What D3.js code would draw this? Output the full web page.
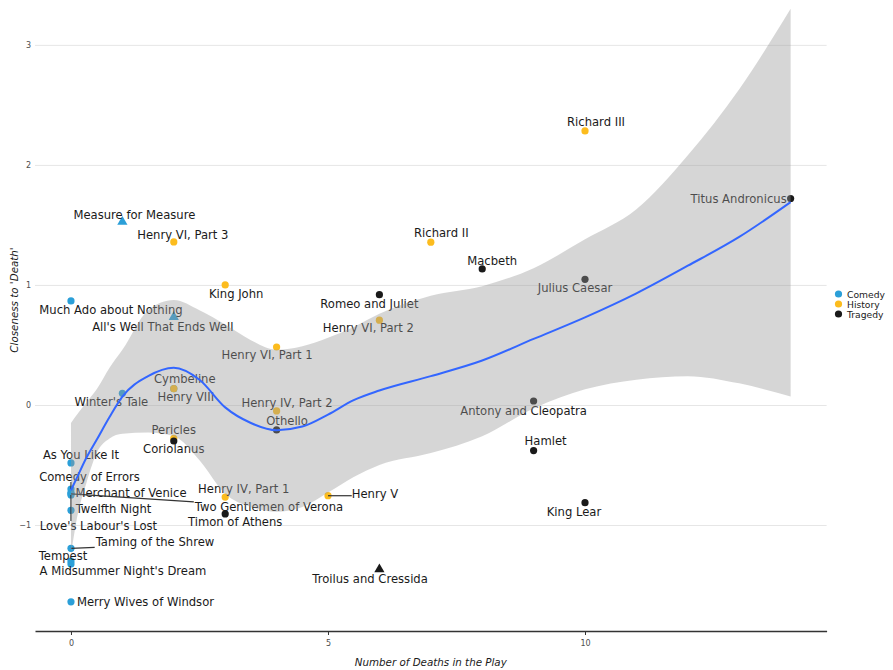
<!DOCTYPE html>
<html>
<head>
<meta charset="utf-8">
<script src="https://cdn.jsdelivr.net/npm/d3@7"></script>
<style>
  body { margin: 0; background: #ffffff; }
  svg { display: block; font-family: "DejaVu Sans", sans-serif; }
</style>
</head>
<body>
<div id="chart"></div>
<script>
// plays
const plays = [
  "Measure for Measure", "Henry VI, Part 3", "King John", "Much Ado about Nothing",
  "All's Well That Ends Well", "Henry VI, Part 1", "Cymbeline", "Henry VIII",
  "Winter's Tale", "Henry IV, Part 2", "Othello", "Pericles", "Coriolanus",
  "As You Like It", "Comedy of Errors", "Merchant of Venice", "Two Gentlemen of Verona",
  "Twelfth Night", "Love's Labour's Lost", "Taming of the Shrew", "Tempest",
  "A Midsummer Night's Dream", "Merry Wives of Windsor", "Henry IV, Part 1",
  "Timon of Athens", "Henry V", "Troilus and Cressida", "Hamlet", "King Lear",
  "Antony and Cleopatra", "Richard III", "Richard II", "Macbeth", "Julius Caesar",
  "Romeo and Juliet", "Henry VI, Part 2", "Titus Andronicus"
];
const deaths = [1, 2, 3, 0, 2, 4, 2, 2, 1, 4, 4, 2, 2, 0, 0, 0, 0, 0, 0, 0, 0, 0, 0, 3, 3, 5, 6, 9, 10, 9, 10, 7, 8, 10, 6, 6, 14];
const closeness = [1.525, 1.358, 1.0, 0.867, 0.733, 0.483, 0.136, 0.136, 0.097, -0.05, -0.208, -0.278, -0.30,
  -0.483, -0.70, -0.73, -0.74, -0.878, -0.75, -1.194, -1.30, -1.325, -1.64, -0.767, -0.908, -0.756,
  -1.37, -0.38, -0.814, 0.033, 2.283, 1.356, 1.133, 1.047, 0.919, 0.706, 1.72];
const genre = ["Comedy", "History", "History", "Comedy", "Comedy", "History", "Comedy", "History",
  "Comedy", "History", "Tragedy", "History", "Tragedy", "Comedy", "Comedy", "Comedy", "Comedy",
  "Comedy", "Comedy", "Comedy", "Comedy", "Comedy", "Comedy", "History", "Tragedy", "History",
  "Tragedy", "Tragedy", "Tragedy", "Tragedy", "History", "History", "Tragedy", "Tragedy",
  "Tragedy", "History", "Tragedy"];
const problemPlay = ["Measure for Measure", "All's Well That Ends Well", "Troilus and Cressida"];

// label placement (pixel offsets of the label centre from its point)
const labelOffset = [
  [12, -7], [9, -7], [11, 9], [40, 9], [-11, 10], [-9.5, 8], [11, -10], [12, 8],
  [-11, 8.5], [10.5, -8], [10.5, -9], [0, -8], [0, 8], [10, -8], [18.5, -12], [60, 0],
  [198, 13], [42.5, -1], [27.5, 31], [84, -6], [-8, -5], [52, 7], [74.5, 0], [18.5, -8],
  [10, 8], [47, -2], [-9.3, 9.3], [12, -10], [-11, 9], [-10, 10], [11, -9], [10.5, -9],
  [10, -8], [-10, 9], [-10, 9], [-11, 8], [-52, 0]
];
const withLeader = ["Comedy of Errors", "Two Gentlemen of Verona", "Love's Labour's Lost",
  "Taming of the Shrew", "Henry V"];

// smoother and its band
const smoothX = [0, 0.1, 0.3, 0.5, 0.75, 1, 1.5, 2, 2.5, 3, 3.5, 4, 4.5, 5, 5.5, 6, 7, 8, 9, 10, 11, 12, 13, 14];
const smoothFit = [-0.71, -0.62, -0.44, -0.29, -0.10, 0.07, 0.24, 0.31, 0.21, -0.02, -0.15, -0.21, -0.18,
  -0.08, 0.04, 0.12, 0.24, 0.37, 0.55, 0.73, 0.93, 1.16, 1.40, 1.69];
const smoothLo = [-1.25, -0.98, -0.65, -0.40, -0.28, -0.24, -0.23, -0.26, -0.46, -0.74, -0.85, -0.89, -0.85,
  -0.73, -0.60, -0.50, -0.40, -0.26, -0.03, 0.13, 0.21, 0.24, 0.18, 0.07];
const smoothHi = [-0.15, -0.09, 0.02, 0.13, 0.31, 0.46, 0.79, 0.875, 0.79, 0.67, 0.54, 0.46, 0.49,
  0.56, 0.65, 0.76, 0.91, 0.99, 1.14, 1.38, 1.63, 2.08, 2.63, 3.30];

const genres = ["Comedy", "History", "Tragedy"];
const xTicks = [0, 5, 10];
const yTicks = [-1, 0, 1, 2, 3];

const width = 893, height = 670;
const left = 35, right = 826.6, bottom = 631;

const svg = d3.select('#chart').append('svg')
  .attr('width', width)
  .attr('height', height);

const x = d3.scaleLinear().domain([-0.7, 14.7]).range([left, right]);
const y = d3.scaleLinear().domain([-1.883, 3.557]).range([bottom, -22]);
const color = d3.scaleOrdinal(genres, ['#2b9fd8', '#fcbc1e', '#1a1a1a']);

// y grid + labels
const yAxis = svg.append('g')
  .attr('transform', 'translate(' + left + ',0)')
  .call(d3.axisLeft(y).tickValues(yTicks).tickSize(-(right - left)).tickPadding(4).tickFormat(d3.format('d')));
yAxis.select('.domain').remove();
yAxis.selectAll('line').attr('stroke', '#e6e6e6').attr('stroke-width', 1);
yAxis.selectAll('text').attr('font-size', 8).attr('fill', '#4d4d4d').attr('font-family', 'DejaVu Sans');

// x axis
const xAxis = svg.append('g')
  .attr('transform', 'translate(0,' + bottom + ')')
  .call(d3.axisBottom(x).tickValues(xTicks).tickSize(4).tickSizeOuter(0).tickPadding(5));
xAxis.select('.domain').attr('stroke', '#333333').attr('stroke-width', 1.5);
xAxis.selectAll('line').attr('stroke', '#333333');
xAxis.selectAll('text').attr('font-size', 8).attr('fill', '#4d4d4d').attr('font-family', 'DejaVu Sans');

// axis titles
svg.append('text')
  .attr('x', (left + right) / 2).attr('y', 662)
  .attr('text-anchor', 'middle').attr('dominant-baseline', 'central')
  .attr('font-size', 10.3).attr('font-style', 'italic').attr('fill', '#1a1a1a')
  .text('Number of Deaths in the Play');
svg.append('text')
  .attr('transform', 'translate(14,300) rotate(-90)')
  .attr('text-anchor', 'middle').attr('dominant-baseline', 'central')
  .attr('font-size', 10.3).attr('font-style', 'italic').attr('fill', '#1a1a1a')
  .text("Closeness to 'Death'");

// points
const pts = svg.append('g');
plays.forEach(function (p, i) {
  const px = x(deaths[i]), py = y(closeness[i]);
  if (problemPlay.includes(p)) {
    pts.append('path')
      .attr('d', d3.symbol(d3.symbolTriangle, 45)())
      .attr('transform', 'translate(' + px + ',' + py + ')')
      .attr('fill', color(genre[i]));
  } else {
    pts.append('circle')
      .attr('cx', px).attr('cy', py).attr('r', 3.6)
      .attr('fill', color(genre[i]));
  }
});

// labels with the odd leader line
const labels = svg.append('g');
plays.forEach(function (p, i) {
  const px = x(deaths[i]), py = y(closeness[i]);
  const t = labels.append('text')
    .attr('x', px + labelOffset[i][0])
    .attr('y', py + labelOffset[i][1])
    .attr('text-anchor', 'middle')
    .attr('dominant-baseline', 'central')
    .attr('font-size', 11.6)
    .attr('fill', '#1a1a1a')
    .text(p);
  if (withLeader.includes(p)) {
    const b = t.node().getBBox();
    const ex = Math.max(b.x, Math.min(px, b.x + b.width));
    const ey = Math.max(b.y + 2, Math.min(py, b.y + b.height - 2));
    labels.append('line')
      .attr('x1', px).attr('y1', py).attr('x2', ex).attr('y2', ey)
      .attr('stroke', '#333333').attr('stroke-width', 1.2);
  }
});

// confidence band sits over points and labels
const band = smoothX.map(function (d, i) { return [d, smoothLo[i], smoothHi[i]]; });
svg.append('path')
  .datum(band)
  .attr('d', d3.area()
    .x(function (d) { return x(d[0]); })
    .y0(function (d) { return y(d[1]); })
    .y1(function (d) { return y(d[2]); })
    .curve(d3.curveMonotoneX))
  .attr('fill', '#999999')
  .attr('fill-opacity', 0.4);

svg.append('path')
  .datum(smoothX.map(function (d, i) { return [d, smoothFit[i]]; }))
  .attr('d', d3.line()
    .x(function (d) { return x(d[0]); })
    .y(function (d) { return y(d[1]); })
    .curve(d3.curveMonotoneX))
  .attr('fill', 'none')
  .attr('stroke', '#3366ff')
  .attr('stroke-width', 2);

// legend
const legend = svg.append('g').attr('transform', 'translate(838.5,294)');
genres.forEach(function (g, i) {
  legend.append('circle').attr('cx', 0).attr('cy', i * 10).attr('r', 3.6).attr('fill', color(g));
  legend.append('text')
    .attr('x', 8.5).attr('y', i * 10)
    .attr('dominant-baseline', 'central')
    .attr('font-size', 9.2).attr('fill', '#1a1a1a')
    .text(g);
});
</script>
</body>
</html>
